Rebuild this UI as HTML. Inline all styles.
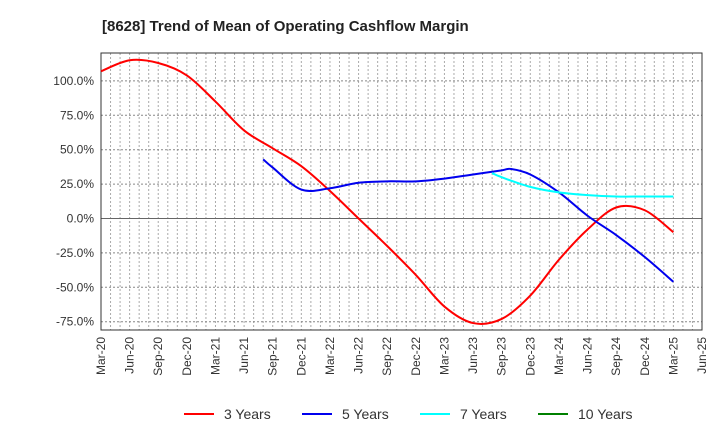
<!DOCTYPE html>
<html><head><meta charset="utf-8"><style>
body{margin:0;background:#fff;font-family:"Liberation Sans",sans-serif}
svg text{font-family:"Liberation Sans",sans-serif;fill:#333}
</style></head><body>
<svg id="c" width="720" height="440">
<text x="102" y="31" font-size="15" font-weight="bold" style="fill:#222">[8628]  Trend of Mean of Operating Cashflow Margin</text>
<g id="grid"></g><g id="axes"></g><g id="series"></g><g id="legend"></g>
</svg>
<script>
const xTickLabels=["Mar-20","Jun-20","Sep-20","Dec-20","Mar-21","Jun-21","Sep-21","Dec-21","Mar-22","Jun-22","Sep-22","Dec-22","Mar-23","Jun-23","Sep-23","Dec-23","Mar-24","Jun-24","Sep-24","Dec-24","Mar-25","Jun-25"];
const yTicks=[-75,-50,-25,0,25,50,75,100];
const y3Months=[0,3,6,9,12,15,18,21,24,27,30,33,36,39,42,45,48,51,54,57,60];
const y3Values=[107,115,113,104,85,64,51,38,20,0,-20,-41,-64,-76,-73,-56,-30,-8,8,6,-10];
const y5Months=[17,18,21,24,27,30,33,36,39,42,43,45,48,51,54,57,60];
const y5Values=[43,37,21,22,26,27,27,29,32,35,36,32,19,2,-12,-28,-46];
const y7Months=[41,42,45,48,51,54,57,60];
const y7Values=[33,30,23,19,17,16,16,16];
const y10Months=[];const y10Values=[];
const L=101,R=702,T=53,B=330;
const X=m=>L+m*(R-L)/63;
const Y=v=>218.5-v*(34.4/25);
const NS="http://www.w3.org/2000/svg";
function mk(t,a,p){const e=document.createElementNS(NS,t);for(const k in a)e.setAttribute(k,a[k]);p.appendChild(e);return e;}
const grid=document.getElementById('grid'),axes=document.getElementById('axes'),ser=document.getElementById('series'),leg=document.getElementById('legend');
for(let m=1;m<63;m++){const l=mk('line',{x1:X(m),x2:X(m),y1:T,y2:B,stroke:'#aaa','stroke-dasharray':'2,2','stroke-width':1},grid);

}
yTicks.forEach(v=>{const l=mk('line',{x1:L,x2:R,y1:Y(v),y2:Y(v),stroke:v===0?'#666':'#888','stroke-dasharray':v===0?'':'2,2','stroke-width':1},grid);


const t=mk('text',{x:L-7,y:Y(v)+4,'text-anchor':'end','font-size':12},axes);t.textContent=v.toFixed(1)+'%';

});
const fr=mk('rect',{x:L,y:T,width:R-L,height:B-T,fill:'none',stroke:'#333','stroke-width':1},axes);


xTickLabels.forEach((s,i)=>{const x=X(i*3);const t=mk('text',{x:0,y:0,'text-anchor':'end','font-size':12,transform:`translate(${x+4},337) rotate(-90)`},axes);t.textContent=s;

});
function path(ms,vs){if(!ms.length)return '';const p=ms.map((m,i)=>[X(m),Y(vs[i])]);let d=`M${p[0][0]},${p[0][1]}`;
for(let i=0;i<p.length-1;i++){const p0=p[i-1]||p[i],p1=p[i],p2=p[i+1],p3=p[i+2]||p2;
d+=`C${p1[0]+(p2[0]-p0[0])/6},${p1[1]+(p2[1]-p0[1])/6} ${p2[0]-(p3[0]-p1[0])/6},${p2[1]-(p3[1]-p1[1])/6} ${p2[0]},${p2[1]}`;}return d;}
const S=[["3 Years",y3Months,y3Values,"#ff0000"],["5 Years",y5Months,y5Values,"#0000ee"],["7 Years",y7Months,y7Values,"#00ffff"],["10 Years",y10Months,y10Values,"#008000"]];
S.forEach((s,i)=>{const p=mk('path',{d:path(s[1],s[2]),fill:'none',stroke:s[3],'stroke-width':2},ser);


const lx=184+i*118;const ln=mk('line',{x1:lx,x2:lx+30,y1:414,y2:414,stroke:s[3],'stroke-width':2},leg);


const t=mk('text',{x:lx+40,y:419,'font-size':14},leg);t.textContent=s[0];

});
</script>
</body></html>
